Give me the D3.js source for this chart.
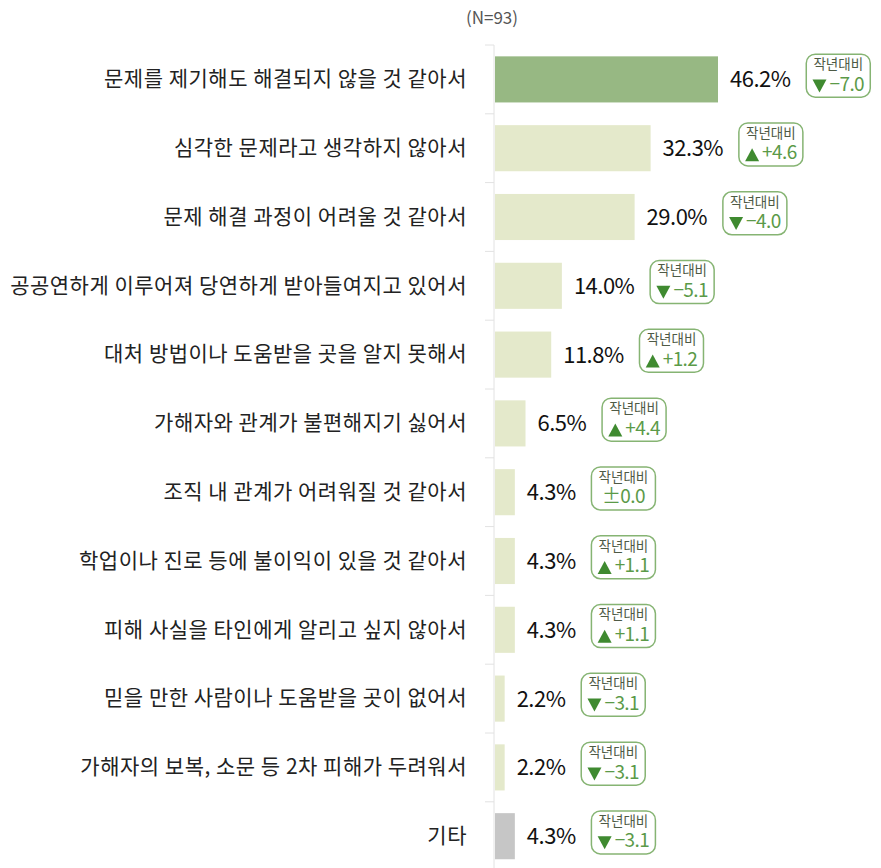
<!DOCTYPE html>
<html>
<head>
<meta charset="utf-8">
<script src="https://cdn.jsdelivr.net/npm/d3@7"></script>
<style>
  body { margin: 0; background: #fff; }
  text { font-family: "Noto Sans CJK KR", "Noto Sans", sans-serif; }
</style>
</head>
<body>
<div id="chart"></div>
<script>
var categories = [
    "문제를 제기해도 해결되지 않을 것 같아서",
    "심각한 문제라고 생각하지 않아서",
    "문제 해결 과정이 어려울 것 같아서",
    "공공연하게 이루어져 당연하게 받아들여지고 있어서",
    "대처 방법이나 도움받을 곳을 알지 못해서",
    "가해자와 관계가 불편해지기 싫어서",
    "조직 내 관계가 어려워질 것 같아서",
    "학업이나 진로 등에 불이익이 있을 것 같아서",
    "피해 사실을 타인에게 알리고 싶지 않아서",
    "믿을 만한 사람이나 도움받을 곳이 없어서",
    "가해자의 보복, 소문 등 2차 피해가 두려워서",
    "기타"
];
var values = [46.2, 32.3, 29.0, 14.0, 11.8, 6.5, 4.3, 4.3, 4.3, 2.2, 2.2, 4.3];
var changes = [-7.0, 4.6, -4.0, -5.1, 1.2, 4.4, 0.0, 1.1, 1.1, -3.1, -3.1, -3.1];
var title = "(N=93)";
var badge_label = "작년대비";

var width = 881,
    height = 868,
    axis_x = 494;

var data = categories.map(function(c, i) {
    return { name: c, value: values[i], change: changes[i], i: i };
});

var x = d3.scaleLinear()
    .domain([0, 46.2])
    .range([axis_x, axis_x + 224]);

var y = d3.scaleBand()
    .domain(categories)
    .range([45, 870.6])
    .paddingInner(0.33)
    .paddingOuter(0.165);

var svg = d3.select("#chart").append("svg")
    .attr("width", width)
    .attr("height", height);

// Title
svg.append("text")
    .attr("x", 492)
    .attr("y", 19)
    .attr("text-anchor", "middle")
    .attr("dominant-baseline", "middle")
    .attr("fill", "#555")
    .style("font-size", "17px")
    .text(title);

// Axis line + ticks between rows
var halfgap = y.step() * y.paddingInner() / 2;
var tick_y = categories.map(function(c) { return y(c) - halfgap; });
svg.append("line")
    .attr("x1", axis_x).attr("x2", axis_x)
    .attr("y1", tick_y[0]).attr("y2", height)
    .attr("stroke", "#e2e2e2");
svg.selectAll("line.tick")
    .data(tick_y)
  .enter().append("line")
    .attr("class", "tick")
    .attr("x1", axis_x - 9).attr("x2", axis_x)
    .attr("y1", function(d) { return d; })
    .attr("y2", function(d) { return d; })
    .attr("stroke", "#e2e2e2");

// Category labels
svg.selectAll("text.label")
    .data(data)
  .enter().append("text")
    .attr("class", "label")
    .attr("x", 467)
    .attr("y", function(d) { return y(d.name) + y.bandwidth() / 2 + 1; })
    .attr("text-anchor", "end")
    .attr("dominant-baseline", "middle")
    .attr("fill", "#222")
    .style("font-size", "21px")
    .style("letter-spacing", "0.5px")
    .text(function(d) { return d.name; });

// Bars
svg.selectAll("rect.bar")
    .data(data)
  .enter().append("rect")
    .attr("class", "bar")
    .attr("x", x(0) + 1)
    .attr("y", function(d) { return y(d.name); })
    .attr("width", function(d) { return x(d.value) - x(0) - 1; })
    .attr("height", y.bandwidth())
    .attr("fill", function(d, i) {
        if (i == 0) return "#97b883";
        if (i == categories.length - 1) return "#c6c6c6";
        return "#e4e9cb";
    });

// Value labels + badges
var row = svg.selectAll("g.row")
    .data(data)
  .enter().append("g")
    .attr("class", "row")
    .attr("transform", function(d) {
        return "translate(0," + (y(d.name) + y.bandwidth() / 2) + ")";
    });

row.append("text")
    .attr("class", "value")
    .attr("x", function(d) { return x(d.value) + 12; })
    .attr("y", 2)
    .attr("dominant-baseline", "middle")
    .attr("fill", "#111")
    .style("font-size", "22px")
    .style("letter-spacing", "-0.5px")
    .text(function(d) { return d.value.toFixed(1) + "%"; });

row.each(function(d) {
    var g = d3.select(this);
    var tw = g.select("text.value").node().getComputedTextLength();
    var bx = x(d.value) + 12 + tw + 15,
        bw = 64, bh = 43, by = -26;
    var b = g.append("g").attr("transform", "translate(" + bx + "," + by + ")");
    b.append("rect")
        .attr("x", 0.75).attr("y", 0.75)
        .attr("width", bw).attr("height", bh)
        .attr("rx", 9)
        .attr("fill", "#fff")
        .attr("stroke", "#86b473")
        .attr("stroke-width", 1.5);
    b.append("text")
        .attr("x", bw / 2 + 0.75)
        .attr("y", 12)
        .attr("text-anchor", "middle")
        .attr("dominant-baseline", "middle")
        .attr("fill", "#4e5a45")
        .style("font-size", "13.5px")
        .text(badge_label);
    var num;
    if (d.change > 0) num = "+" + d.change.toFixed(1);
    else if (d.change < 0) num = "\u2212" + Math.abs(d.change).toFixed(1);
    else num = "\u00b1" + d.change.toFixed(1);
    var t = b.append("text")
        .attr("y", 32)
        .attr("dominant-baseline", "middle")
        .attr("fill", "#5b9a48")
        .style("font-size", "19px")
        .style("letter-spacing", "-0.6px")
        .text(num);
    var nw = t.node().getComputedTextLength();
    var triw = d.change == 0 ? 0 : 14, gap = d.change == 0 ? 0 : 3;
    var sx = bw / 2 + 0.75 - (triw + gap + nw) / 2;
    t.attr("x", sx + triw + gap);
    if (d.change != 0) {
        var tp = d.change > 0
            ? "M" + sx + ",39 L" + (sx + triw / 2) + ",26 L" + (sx + triw) + ",39 Z"
            : "M" + sx + ",26 L" + (sx + triw / 2) + ",39 L" + (sx + triw) + ",26 Z";
        b.append("path")
            .attr("d", tp)
            .attr("fill", "#3f8a30");
    }
});
</script>
</body>
</html>
